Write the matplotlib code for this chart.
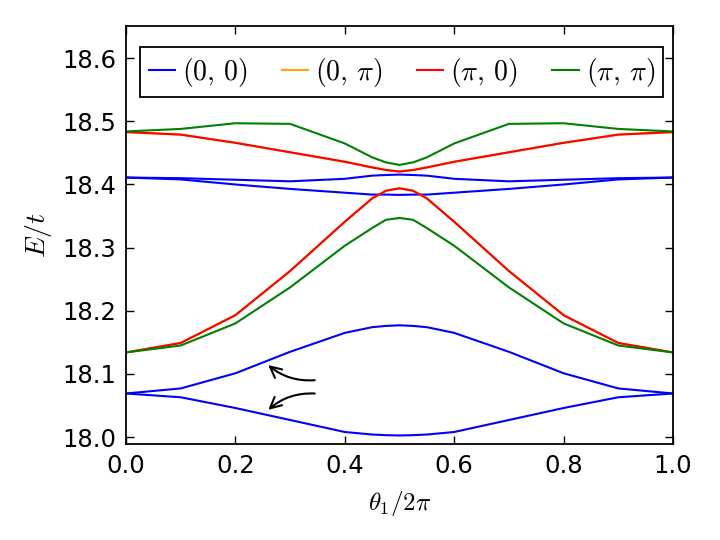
import matplotlib
matplotlib.use("Agg")
import matplotlib.pyplot as plt

plt.rcParams['mathtext.fontset'] = 'cm'
plt.rcParams['font.family'] = ['DejaVu Sans']

theta = [0.0, 0.1, 0.2, 0.3, 0.4, 0.45, 0.475, 0.5, 0.525, 0.55, 0.6, 0.7, 0.8, 0.9, 1.0]

# (0,0) sector bands
b00_1 = [18.069, 18.063, 18.046, 18.027, 18.008, 18.004, 18.003, 18.0025, 18.003, 18.004, 18.008, 18.027, 18.046, 18.063, 18.069]
b00_2 = [18.069, 18.077, 18.101, 18.135, 18.165, 18.174, 18.176, 18.177, 18.176, 18.174, 18.165, 18.135, 18.101, 18.077, 18.069]
b00_3 = [18.411, 18.408, 18.400, 18.393, 18.387, 18.384, 18.384, 18.3835, 18.384, 18.384, 18.387, 18.393, 18.400, 18.408, 18.411]
b00_4 = [18.411, 18.410, 18.4075, 18.405, 18.409, 18.414, 18.415, 18.4157, 18.415, 18.414, 18.409, 18.405, 18.4075, 18.410, 18.411]

# (0,pi) sector bands (coincide with (pi,0))
b0p_1 = [18.134, 18.149, 18.193, 18.263, 18.341, 18.378, 18.390, 18.394, 18.390, 18.378, 18.341, 18.263, 18.193, 18.149, 18.134]
b0p_2 = [18.483, 18.479, 18.466, 18.451, 18.436, 18.427, 18.423, 18.4205, 18.423, 18.427, 18.436, 18.451, 18.466, 18.479, 18.483]

# (pi,0) sector bands
bp0_1 = [18.134, 18.149, 18.193, 18.263, 18.341, 18.378, 18.390, 18.394, 18.390, 18.378, 18.341, 18.263, 18.193, 18.149, 18.134]
bp0_2 = [18.483, 18.479, 18.466, 18.451, 18.436, 18.427, 18.423, 18.4205, 18.423, 18.427, 18.436, 18.451, 18.466, 18.479, 18.483]

# (pi,pi) sector bands
bpp_1 = [18.134, 18.145, 18.180, 18.237, 18.303, 18.331, 18.344, 18.347, 18.344, 18.331, 18.303, 18.237, 18.180, 18.145, 18.134]
bpp_2 = [18.484, 18.488, 18.497, 18.496, 18.465, 18.443, 18.435, 18.431, 18.435, 18.443, 18.465, 18.496, 18.497, 18.488, 18.484]

labels = [r'$(0,\,0)$', r'$(0,\,\pi)$', r'$(\pi,\,0)$', r'$(\pi,\,\pi)$']
colors = ['#0000ff', 'orange', '#ff0000', '#008000']
groups = [[b00_1, b00_2, b00_3, b00_4], [b0p_1, b0p_2], [bp0_1, bp0_2], [bpp_1, bpp_2]]

xticks = [0.0, 0.2, 0.4, 0.6, 0.8, 1.0]
yticks = [18.0, 18.1, 18.2, 18.3, 18.4, 18.5, 18.6]

fig = plt.figure(figsize=(7.2, 5.4), dpi=100)
ax = fig.add_axes([126/720, 1-444/540, 547/720, 418/540])

for lab, col, bands in zip(labels, colors, groups):
    for i, b in enumerate(bands):
        ax.plot(theta, b, color=col, lw=1.5, label=lab if i == 0 else None)

ax.annotate('', xy=(0.26, 18.114), xytext=(0.345, 18.090),
            arrowprops=dict(arrowstyle='->', connectionstyle='arc3,rad=-0.2',
                            lw=1.5, color='k', shrinkA=0, shrinkB=0, mutation_scale=20))
ax.annotate('', xy=(0.26, 18.043), xytext=(0.345, 18.069),
            arrowprops=dict(arrowstyle='->', connectionstyle='arc3,rad=0.2',
                            lw=1.5, color='k', shrinkA=0, shrinkB=0, mutation_scale=20))

ax.set_xlim(0, 1)
ax.set_ylim(17.989, 18.651)
ax.set_xticks(xticks)
ax.set_yticks(yticks)
ax.set_xticklabels([f'{v:.1f}' for v in xticks])
ax.set_yticklabels([f'{v:.1f}' for v in yticks])
ax.tick_params(direction='in', top=True, right=True, length=5.5, width=1, labelsize=17.5, pad=7)
for s in ax.spines.values():
    s.set_linewidth(1.3)

ax.set_xlabel(r'$\theta_1/2\pi$', fontsize=18, labelpad=8)
ax.set_ylabel(r'$E/t$', fontsize=20, labelpad=6)

leg = ax.legend(loc='lower left', bbox_to_anchor=(0.026, 0.830, 0.956, 0.132), mode='expand',
                ncol=4, fontsize=20, fancybox=False, frameon=True, borderaxespad=0,
                handlelength=0.95, handletextpad=0.25, columnspacing=0.8, borderpad=0.3)
leg.get_frame().set_edgecolor('black')
leg.get_frame().set_linewidth(1.3)
leg.get_frame().set_alpha(1)

fig.savefig('out.png', dpi=100, facecolor='white')
